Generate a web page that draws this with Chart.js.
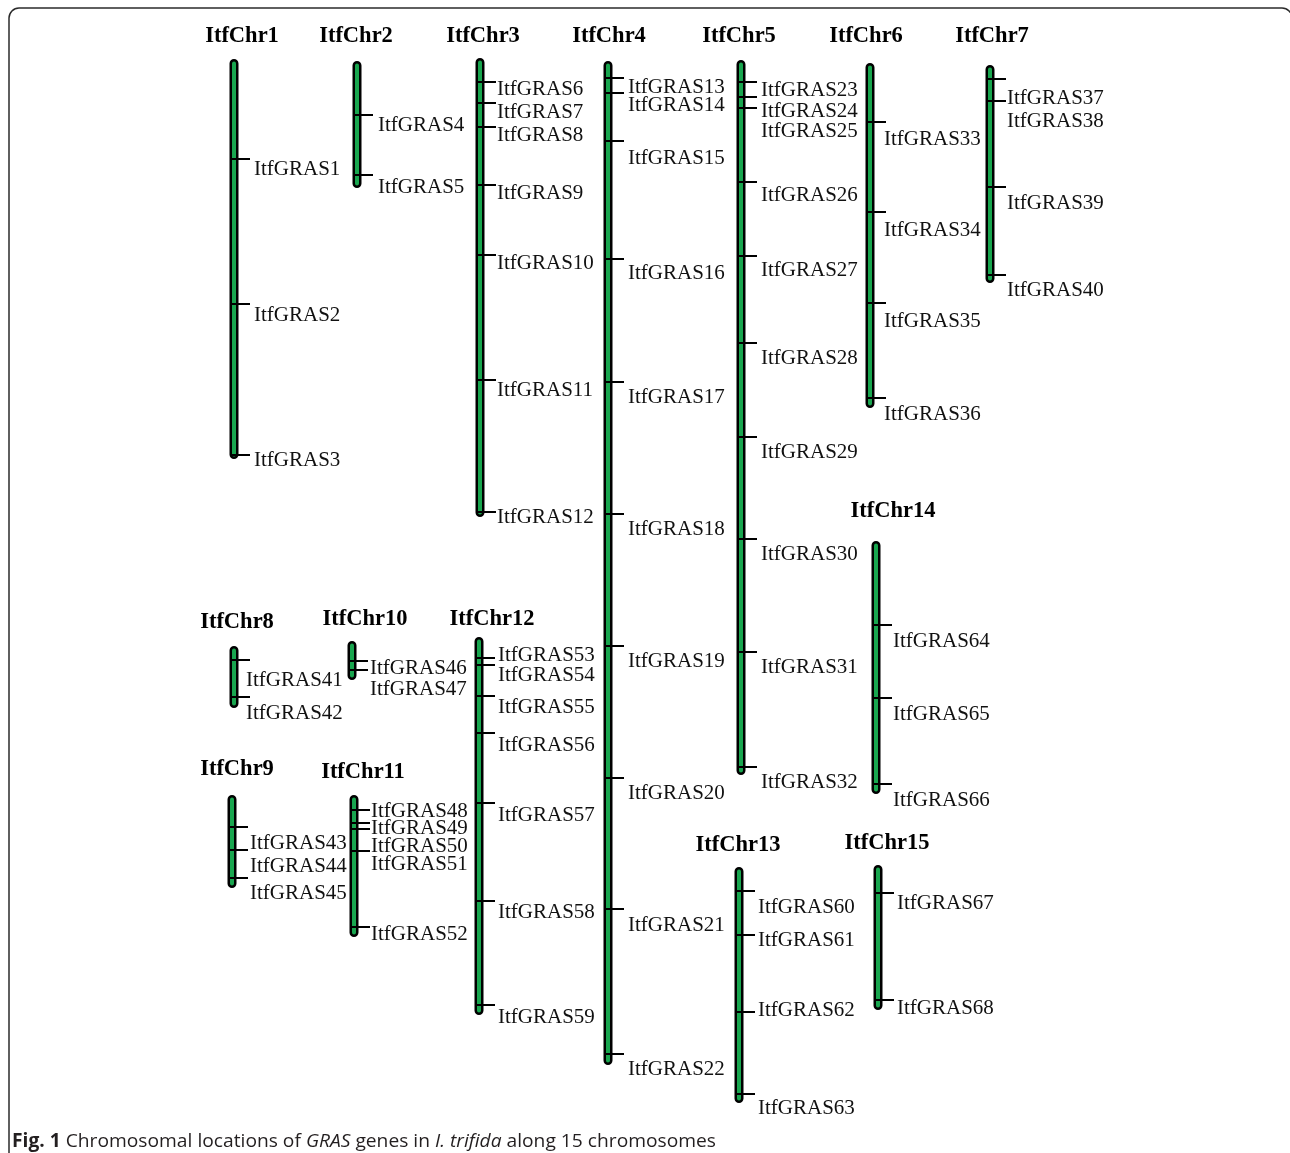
<!DOCTYPE html>
<html>
<head>
<meta charset="utf-8">
<script src="https://cdn.jsdelivr.net/npm/chart.js@4.4.1/dist/chart.umd.min.js"></script>
<style>
  html, body { margin: 0; padding: 0; background: #fff; }
  #wrap { width: 1290px; height: 1153px; position: relative; }
</style>
</head>
<body>
<div id="wrap"><canvas id="map"></canvas></div>
<script>
// chromosomes, their lengths and the gene positions along them (map units from the top end)
const chromosomes = ['ItfChr1', 'ItfChr2', 'ItfChr3', 'ItfChr4', 'ItfChr5', 'ItfChr6', 'ItfChr7', 'ItfChr8',
  'ItfChr9', 'ItfChr10', 'ItfChr11', 'ItfChr12', 'ItfChr13', 'ItfChr14', 'ItfChr15']
const chrLengths = [400, 127, 459, 1004, 715, 345, 218, 62, 93, 39, 142, 378, 236, 253, 145]
const genePositions = [
  [100, 245, 396],
  [54, 114],
  [24, 45, 69, 127, 197, 322, 454],
  [17, 32, 80, 198, 321, 453, 585, 717, 848, 993],
  [22, 37, 48, 122, 196, 283, 377, 479, 592, 707],
  [59, 149, 240, 335],
  [14, 36, 122, 210],
  [14, 51],
  [32, 55, 83],
  [20, 29],
  [15, 28, 34, 56, 132],
  [21, 28, 59, 96, 166, 264, 368],
  [24, 68, 145, 227],
  [84, 157, 243],
  [28, 135]
]
const geneNames = [
  ['ItfGRAS1', 'ItfGRAS2', 'ItfGRAS3'],
  ['ItfGRAS4', 'ItfGRAS5'],
  ['ItfGRAS6', 'ItfGRAS7', 'ItfGRAS8', 'ItfGRAS9', 'ItfGRAS10', 'ItfGRAS11', 'ItfGRAS12'],
  ['ItfGRAS13', 'ItfGRAS14', 'ItfGRAS15', 'ItfGRAS16', 'ItfGRAS17', 'ItfGRAS18', 'ItfGRAS19', 'ItfGRAS20', 'ItfGRAS21', 'ItfGRAS22'],
  ['ItfGRAS23', 'ItfGRAS24', 'ItfGRAS25', 'ItfGRAS26', 'ItfGRAS27', 'ItfGRAS28', 'ItfGRAS29', 'ItfGRAS30', 'ItfGRAS31', 'ItfGRAS32'],
  ['ItfGRAS33', 'ItfGRAS34', 'ItfGRAS35', 'ItfGRAS36'],
  ['ItfGRAS37', 'ItfGRAS38', 'ItfGRAS39', 'ItfGRAS40'],
  ['ItfGRAS41', 'ItfGRAS42'],
  ['ItfGRAS43', 'ItfGRAS44', 'ItfGRAS45'],
  ['ItfGRAS46', 'ItfGRAS47'],
  ['ItfGRAS48', 'ItfGRAS49', 'ItfGRAS50', 'ItfGRAS51', 'ItfGRAS52'],
  ['ItfGRAS53', 'ItfGRAS54', 'ItfGRAS55', 'ItfGRAS56', 'ItfGRAS57', 'ItfGRAS58', 'ItfGRAS59'],
  ['ItfGRAS60', 'ItfGRAS61', 'ItfGRAS62', 'ItfGRAS63'],
  ['ItfGRAS64', 'ItfGRAS65', 'ItfGRAS66'],
  ['ItfGRAS67', 'ItfGRAS68']
]

// layout: where each chromosome sits on the page, and where its texts go
const chrX = [234, 357, 480, 608, 741, 870, 990, 234, 232, 352, 354, 479, 739, 876, 878]
const chrTop = [59, 61, 58, 61, 60, 63, 65, 646, 795, 641, 795, 637, 867, 541, 865]
const titleX = [242, 356, 483, 609, 739, 866, 992, 237, 237, 365, 363, 492, 738, 893, 887]
const titleY = [34, 34, 34, 34, 34, 34, 34, 620, 767, 617, 770, 617, 843, 509, 841]
const labelDx = [20, 21, 17, 20, 20, 14, 17, 12, 18, 18, 17, 19, 19, 17, 19]
// label shift below (or above) its tick, so crowded names don't overlap
const labelDy = [
  [9, 10, 4],
  [9, 11],
  [6, 8, 7, 7, 7, 9, 4],
  [8, 11, 16, 13, 14, 14, 14, 14, 15, 14],
  [7, 13, 22, 12, 13, 14, 14, 14, 14, 14],
  [16, 17, 17, 15],
  [18, 19, 15, 14],
  [19, 15],
  [15, 15, 14],
  [6, 18],
  [0, 4, 16, 12, 6],
  [-4, 9, 10, 11, 11, 10, 11],
  [15, 4, -3, 13],
  [15, 15, 15],
  [9, 7]
]

const GREEN = '#19a64f'
const CAP = 4.5      // half the chromosome outline width, keeps round ends inside the length
const TICK_SHIFT = 6.5

const outline = []
const core = []
const ticks = []
chromosomes.forEach(function (name, c) {
  var a = chrTop[c] + CAP
  var b = chrTop[c] + chrLengths[c] - CAP
  outline.push({ x: chrX[c], y: a }, { x: chrX[c], y: b }, { x: chrX[c], y: null })
  core.push({ x: chrX[c], y: a }, { x: chrX[c], y: b }, { x: chrX[c], y: null })
  genePositions[c].forEach(function (p) {
    ticks.push({ x: chrX[c] + TICK_SHIFT, y: chrTop[c] + p })
  })
})

const mapText = {
  id: 'mapText',
  beforeDraw: function (chart) {
    var ctx = chart.ctx
    ctx.save()
    ctx.fillStyle = '#fff'
    ctx.fillRect(0, 0, chart.width, chart.height)
    ctx.restore()
  },
  afterDatasetsDraw: function (chart) {
    var ctx = chart.ctx
    var xs = chart.scales.x
    var ys = chart.scales.y
    ctx.save()

    // frame
    ctx.strokeStyle = '#2b2b2b'
    ctx.lineWidth = 1.5
    ctx.beginPath()
    ctx.roundRect(9, 8, 1283, 1200, 10)
    ctx.stroke()

    // chromosome names
    ctx.fillStyle = '#000'
    ctx.textAlign = 'center'
    ctx.textBaseline = 'alphabetic'
    ctx.font = 'bold 22.5px "Liberation Serif", "Times New Roman", serif'
    chromosomes.forEach(function (name, c) {
      ctx.fillText(name, titleX[c], titleY[c] + 7.5)
    })

    // gene names
    ctx.textAlign = 'left'
    ctx.font = '21px "Liberation Serif", "Times New Roman", serif'
    ctx.fillStyle = '#111'
    genePositions.forEach(function (list, c) {
      list.forEach(function (p, i) {
        var px = xs.getPixelForValue(chrX[c]) + labelDx[c]
        var py = ys.getPixelForValue(chrTop[c] + p) + labelDy[c][i]
        ctx.fillText(geneNames[c][i], px, py + 7)
      })
    })

    // caption
    var parts = [
      { t: 'Fig. 1', f: 'bold' },
      { t: ' Chromosomal locations of ', f: '' },
      { t: 'GRAS', f: 'italic' },
      { t: ' genes in ', f: '' },
      { t: 'I. trifida', f: 'italic' },
      { t: ' along 15 chromosomes', f: '' }
    ]
    var fam = '19px "Open Sans", "Noto Sans", sans-serif'
    var total = 0
    parts.forEach(function (p) {
      ctx.font = (p.f ? p.f + ' ' : '') + fam
      p.w = ctx.measureText(p.t).width
      total += p.w
    })
    var sx = 704 / total
    ctx.translate(12, 1147)
    ctx.scale(sx, 1)
    ctx.fillStyle = '#231f20'
    var cx = 0
    parts.forEach(function (p) {
      ctx.font = (p.f ? p.f + ' ' : '') + fam
      ctx.fillText(p.t, cx, 0)
      cx += p.w
    })
    ctx.restore()
  }
}

new Chart(document.getElementById('map').getContext('2d'), {
  type: 'scatter',
  data: {
    datasets: [
      {
        label: 'genes',
        data: ticks,
        showLine: false,
        pointStyle: 'line',
        pointRadius: 9.5,
        pointBorderWidth: 2,
        pointBorderColor: '#000',
        order: 0
      },
      {
        label: 'core',
        data: core,
        showLine: true,
        spanGaps: false,
        pointRadius: 0,
        borderWidth: 4,
        borderColor: GREEN,
        borderCapStyle: 'round',
        order: 1
      },
      {
        label: 'outline',
        data: outline,
        showLine: true,
        spanGaps: false,
        pointRadius: 0,
        borderWidth: 9,
        borderColor: '#000',
        borderCapStyle: 'round',
        order: 2
      }
    ]
  },
  options: {
    responsive: true,
    maintainAspectRatio: false,
    animation: false,
    events: [],
    layout: { padding: 0, autoPadding: false },
    plugins: {
      legend: { display: false },
      title: { display: false },
      tooltip: { enabled: false }
    },
    scales: {
      x: { type: 'linear', display: false, min: 0, max: 1290 },
      y: { type: 'linear', display: false, min: 0, max: 1153, reverse: true }
    }
  },
  plugins: [mapText]
})
</script>
</body>
</html>
